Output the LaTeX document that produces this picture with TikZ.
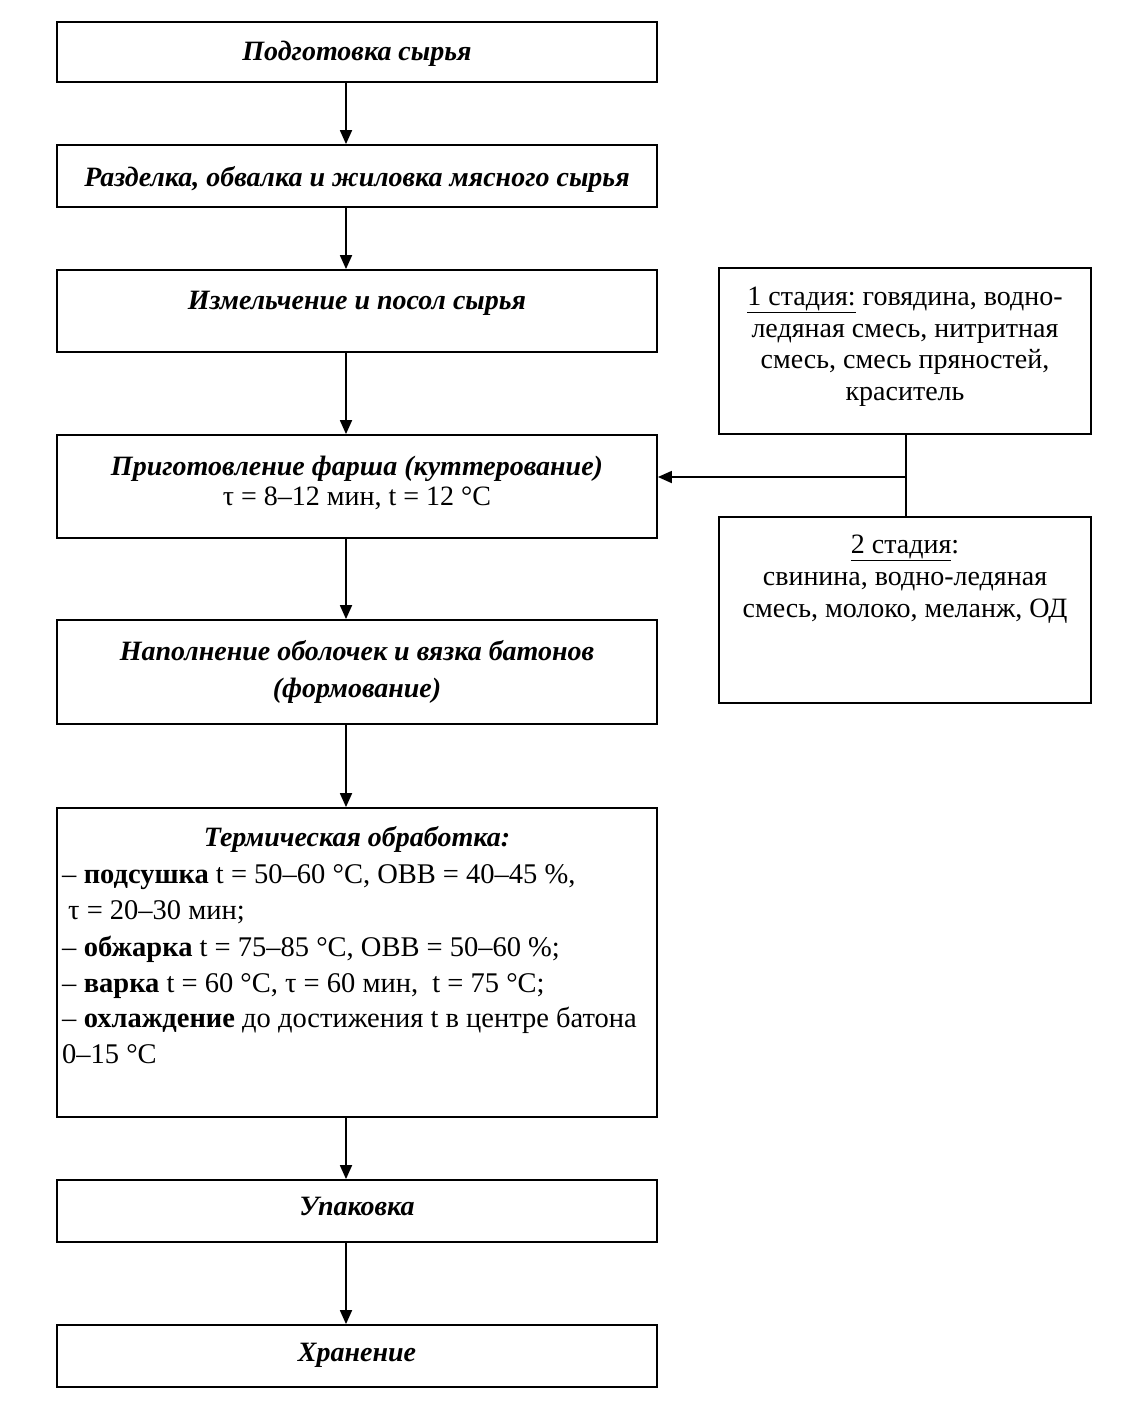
\documentclass[tikz,border=0pt]{standalone}
\usepackage{fontspec}
\setmainfont{Liberation Serif}
\usetikzlibrary{arrows.meta}
\begin{document}
\begin{tikzpicture}[x=1pt,y=-1pt,
  box/.style={draw,line width=1.8pt,inner sep=0pt,minimum width=600pt},
  rbox/.style={draw,line width=1.8pt,inner sep=0pt,minimum width=372pt},
  txt/.style={inner sep=0pt,font=\fontsize{28}{32}\selectfont},
  ttxt/.style={inner sep=0pt,font=\fontsize{28.5}{32}\selectfont},
  ttl/.style={txt,font=\fontsize{28}{32}\selectfont\bfseries\itshape},
  arr/.style={line width=1.8pt,-{Triangle[length=14pt,width=12pt]}},
  ln/.style={line width=1.8pt}]
\useasboundingbox (0,0) rectangle (1121,1414);
% left boxes
\node[box,minimum height=60pt] (b1) at (357,52) {};
\node[box,minimum height=62pt] (b2) at (357,176) {};
\node[box,minimum height=82pt] (b3) at (357,311) {};
\node[box,minimum height=103pt] (b4) at (357,486.5) {};
\node[box,minimum height=104pt] (b5) at (357,672) {};
\node[box,minimum height=309pt] (b6) at (357,962.5) {};
\node[box,minimum height=62pt] (b7) at (357,1211) {};
\node[box,minimum height=62pt] (b8) at (357,1356) {};
% right boxes
\node[rbox,minimum height=166pt] (r1) at (905,351) {};
\node[rbox,minimum height=186pt] (r2) at (905,610) {};
% texts
\node[ttl,anchor=base] (t1) at (357,60) {Подготовка сырья};
\node[ttl,anchor=base] (t2) at (357,186) {Разделка, обвалка и жиловка мясного сырья};
\node[ttl,anchor=base] (t3) at (357,309) {Измельчение и посол сырья};
\node[ttl,anchor=base] (t4a) at (357,475) {Приготовление фарша (куттерование)};
\node[txt,anchor=base] (t4b) at (357,505) {τ = 8–12 мин, t = 12 °C};
\node[ttl,anchor=base] (t5a) at (357,660) {Наполнение оболочек и вязка батонов};
\node[ttl,anchor=base] (t5b) at (357,697) {(формование)};
\node[ttl,anchor=base] (t6a) at (357,846) {Термическая обработка:};
\node[ttxt,anchor=base west] (t6b) at (62,883) {– \textbf{подсушка} t = 50–60 °C, ОВВ = 40–45 \%,};
\node[ttxt,anchor=base west] (t6c) at (68,919) {τ = 20–30 мин;};
\node[ttxt,anchor=base west] (t6d) at (62,956) {– \textbf{обжарка} t = 75–85 °C, ОВВ = 50–60 \%;};
\node[ttxt,anchor=base west] (t6e) at (62,992) {– \textbf{варка} t = 60 °C, τ = 60 мин, \ t = 75 °C;};
\node[ttxt,anchor=base west] (t6f) at (62,1027) {– \textbf{охлаждение} до достижения t в центре батона};
\node[ttxt,anchor=base west] (t6g) at (62,1063) {0–15 °C};
\node[ttl,anchor=base] (t7) at (357,1215) {Упаковка};
\node[ttl,anchor=base] (t8) at (357,1361) {Хранение};
\node[txt,anchor=base] (r1a) at (905,305) {\underline{1 стадия:} говядина, водно-};
\node[txt,anchor=base] (r1b) at (905,337) {ледяная смесь, нитритная};
\node[txt,anchor=base] (r1c) at (905,368) {смесь, смесь пряностей,};
\node[txt,anchor=base] (r1d) at (905,400) {краситель};
\node[txt,anchor=base] (r2a) at (905,553) {\underline{2 стадия}:};
\node[txt,anchor=base] (r2b) at (905,585) {свинина, водно-ледяная};
\node[txt,anchor=base] (r2c) at (905,617) {смесь, молоко, меланж, ОД};
% connectors
\coordinate (ax) at (346,0);
\coordinate (jx) at (906,477);
\draw[arr] (b1.south -| ax) -- (b2.north -| ax);
\draw[arr] (b2.south -| ax) -- (b3.north -| ax);
\draw[arr] (b3.south -| ax) -- (b4.north -| ax);
\draw[arr] (b4.south -| ax) -- (b5.north -| ax);
\draw[arr] (b5.south -| ax) -- (b6.north -| ax);
\draw[arr] (b6.south -| ax) -- (b7.north -| ax);
\draw[arr] (b7.south -| ax) -- (b8.north -| ax);
\draw[ln] (r1.south -| jx) -- (r2.north -| jx);
\draw[arr] (jx) -- (jx -| b4.east);
\end{tikzpicture}
\end{document}
